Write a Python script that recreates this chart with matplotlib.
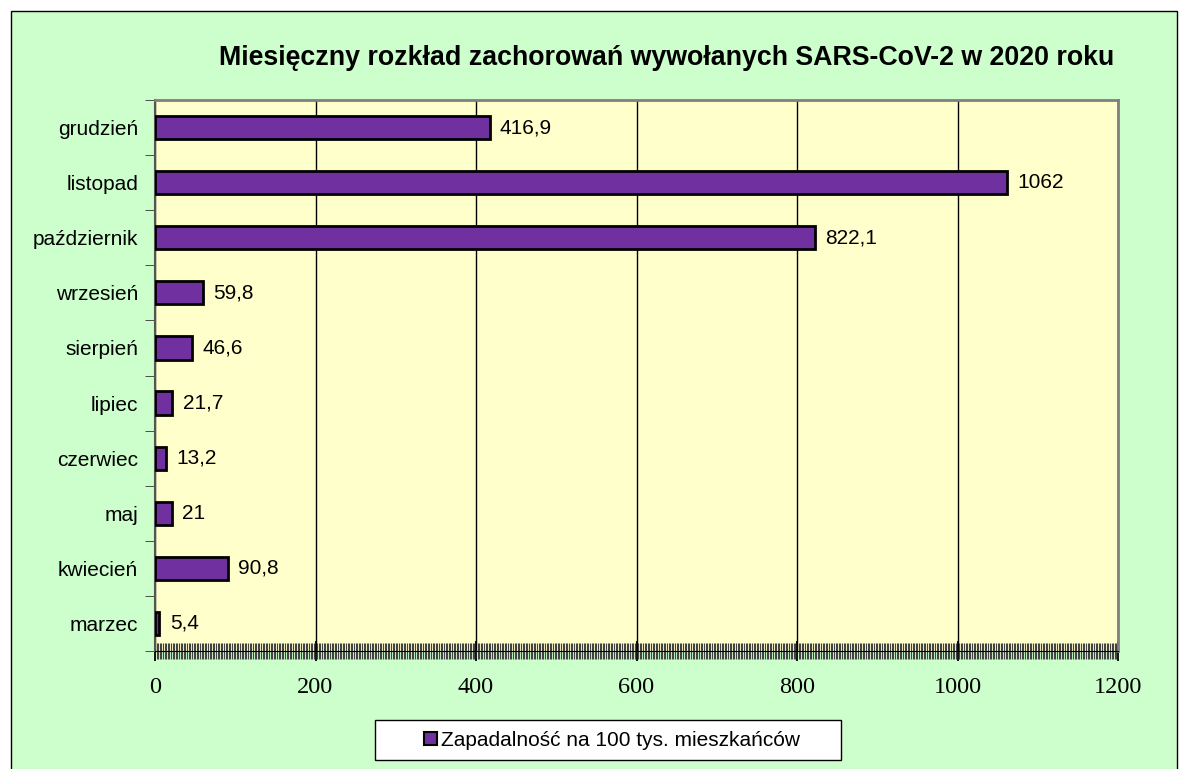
import matplotlib
matplotlib.use("Agg")
import matplotlib.pyplot as plt
from matplotlib.ticker import MultipleLocator
from matplotlib.patches import Rectangle

# Data (bottom to top)
months = ["marzec", "kwiecień", "maj", "czerwiec", "lipiec",
          "sierpień", "wrzesień", "październik", "listopad", "grudzień"]
values = [5.4, 90.8, 21, 13.2, 21.7, 46.6, 59.8, 822.1, 1062, 416.9]
value_labels = ["5,4", "90,8", "21", "13,2", "21,7", "46,6", "59,8", "822,1", "1062", "416,9"]
x_ticks = [0, 200, 400, 600, 800, 1000, 1200]

plt.rcParams['font.family'] = ['Liberation Sans', 'DejaVu Sans']

W, H = 1189, 769
fig = plt.figure(figsize=(W / 100, H / 100), dpi=100)
fig.patch.set_facecolor("white")

# outer chart area (green) with black border
fig.patches.append(Rectangle((11 / W, -0.01), (1177 - 11) / W, (H - 11) / H + 0.01,
                             transform=fig.transFigure, facecolor="#CCFFCC",
                             edgecolor="black", linewidth=1, zorder=-10))

ax = fig.add_axes([155 / W, 1 - 651 / H, (1118 - 155) / W, (651 - 100) / H])
ax.set_facecolor("#FFFFCC")

ypos = list(range(len(months)))
ax.barh(ypos, values, height=0.42, color="#7030A0", edgecolor="black",
        linewidth=2, zorder=3)

for y, v, lab in zip(ypos, values, value_labels):
    ax.text(v + 13, y, lab, va="center", ha="left", fontsize=15, zorder=4)

ax.set_xlim(0, 1200)
ax.set_ylim(-0.5, len(months) - 0.5)
ax.set_xticks(x_ticks)
ax.set_xticklabels([str(t) for t in x_ticks], family="Liberation Serif", fontsize=17.5)
ax.xaxis.set_minor_locator(MultipleLocator(2))
ax.tick_params(axis="x", which="major", direction="inout", length=14, width=1.3, pad=12)
ax.tick_params(axis="x", which="minor", direction="inout", length=11, width=0.8,
               color="#444444")

ax.set_yticks(ypos)
ax.set_yticklabels(months, fontsize=15)
ax.set_yticks([y + 0.5 for y in range(-1, len(months))], minor=True)
ax.tick_params(axis="y", which="major", length=0, pad=12)
ax.tick_params(axis="y", which="minor", direction="out", length=7, color="#333333")

ax.grid(axis="x", color="black", linewidth=1, zorder=1)
ax.set_axisbelow(True)

for s in ["top", "right"]:
    ax.spines[s].set_color("#808080")
    ax.spines[s].set_linewidth(2)
ax.spines["left"].set_color("#555555")
ax.spines["left"].set_linewidth(1.5)
ax.spines["bottom"].set_color("black")

fig.text(667 / W, 1 - 58 / H, "Miesięczny rozkład zachorowań wywołanych SARS-CoV-2 w 2020 roku",
         ha="center", va="center", fontsize=19.3, fontweight="bold")

# legend box drawn by hand so it can be wider than its content
fig.patches.append(Rectangle((375 / W, 1 - 760 / H), (841 - 375) / W, 40 / H,
                             transform=fig.transFigure, facecolor="white",
                             edgecolor="black", linewidth=1, zorder=5))
handle = Rectangle((0, 0), 1, 1, facecolor="#7030A0", edgecolor="black", linewidth=1.5)
leg = fig.legend([handle], ["Zapadalność na 100 tys. mieszkańców"],
                 loc="center", bbox_to_anchor=(612 / W, 1 - 740 / H),
                 fontsize=15, frameon=False, handlelength=0.6,
                 handleheight=0.6, handletextpad=0.2, borderaxespad=0)
leg.set_zorder(6)

fig.savefig("out.png", dpi=100, facecolor=fig.get_facecolor())
